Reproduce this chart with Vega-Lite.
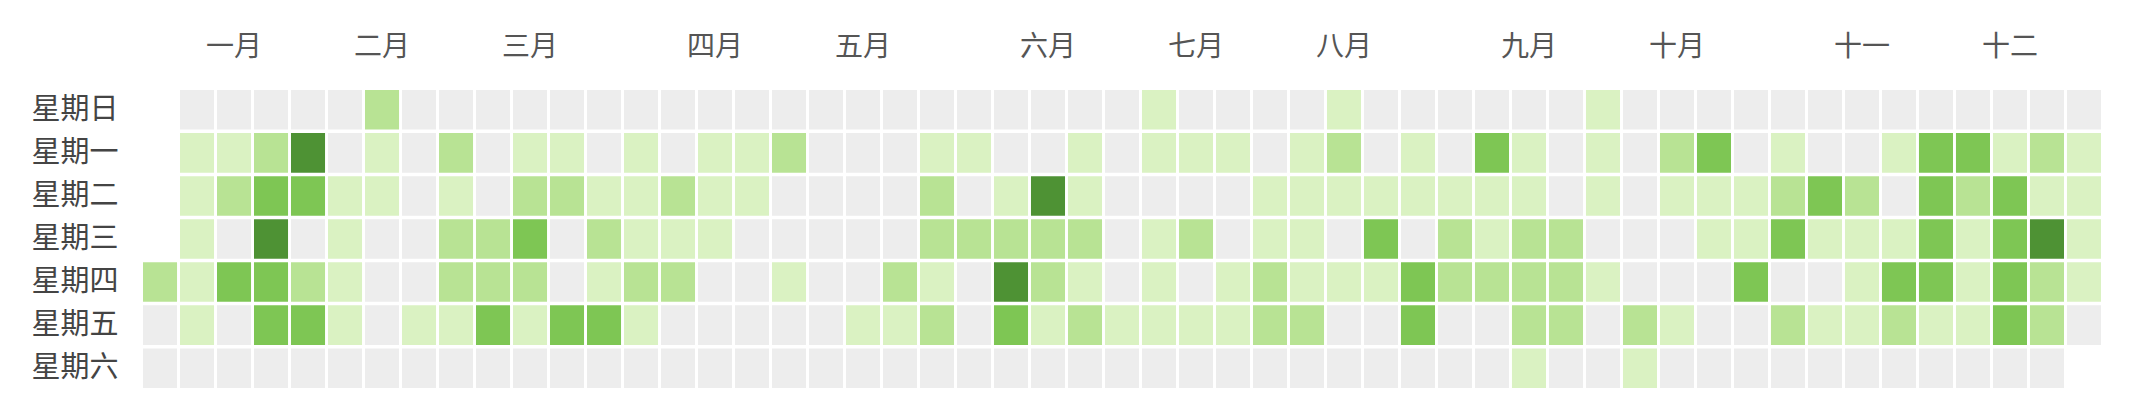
{
  "$schema": "https://vega.github.io/schema/vega-lite/v6.json",
  "autosize": {"type": "none"},
  "padding": {"left": 143, "top": 90, "right": 0, "bottom": 0},
  "width": 1958,
  "height": 298,
  "background": "white",
  "config": {"view": {"stroke": null}, "font": "Noto Sans CJK SC"},
  "data": {"values": [
{"w":0,"d":4,"v":2},{"w":0,"d":5,"v":0},{"w":0,"d":6,"v":0},
{"w":1,"d":0,"v":0},{"w":1,"d":1,"v":1},{"w":1,"d":2,"v":1},{"w":1,"d":3,"v":1},{"w":1,"d":4,"v":1},{"w":1,"d":5,"v":1},{"w":1,"d":6,"v":0},
{"w":2,"d":0,"v":0},{"w":2,"d":1,"v":1},{"w":2,"d":2,"v":2},{"w":2,"d":3,"v":0},{"w":2,"d":4,"v":3},{"w":2,"d":5,"v":0},{"w":2,"d":6,"v":0},
{"w":3,"d":0,"v":0},{"w":3,"d":1,"v":2},{"w":3,"d":2,"v":3},{"w":3,"d":3,"v":4},{"w":3,"d":4,"v":3},{"w":3,"d":5,"v":3},{"w":3,"d":6,"v":0},
{"w":4,"d":0,"v":0},{"w":4,"d":1,"v":4},{"w":4,"d":2,"v":3},{"w":4,"d":3,"v":0},{"w":4,"d":4,"v":2},{"w":4,"d":5,"v":3},{"w":4,"d":6,"v":0},
{"w":5,"d":0,"v":0},{"w":5,"d":1,"v":0},{"w":5,"d":2,"v":1},{"w":5,"d":3,"v":1},{"w":5,"d":4,"v":1},{"w":5,"d":5,"v":1},{"w":5,"d":6,"v":0},
{"w":6,"d":0,"v":2},{"w":6,"d":1,"v":1},{"w":6,"d":2,"v":1},{"w":6,"d":3,"v":0},{"w":6,"d":4,"v":0},{"w":6,"d":5,"v":0},{"w":6,"d":6,"v":0},
{"w":7,"d":0,"v":0},{"w":7,"d":1,"v":0},{"w":7,"d":2,"v":0},{"w":7,"d":3,"v":0},{"w":7,"d":4,"v":0},{"w":7,"d":5,"v":1},{"w":7,"d":6,"v":0},
{"w":8,"d":0,"v":0},{"w":8,"d":1,"v":2},{"w":8,"d":2,"v":1},{"w":8,"d":3,"v":2},{"w":8,"d":4,"v":2},{"w":8,"d":5,"v":1},{"w":8,"d":6,"v":0},
{"w":9,"d":0,"v":0},{"w":9,"d":1,"v":0},{"w":9,"d":2,"v":0},{"w":9,"d":3,"v":2},{"w":9,"d":4,"v":2},{"w":9,"d":5,"v":3},{"w":9,"d":6,"v":0},
{"w":10,"d":0,"v":0},{"w":10,"d":1,"v":1},{"w":10,"d":2,"v":2},{"w":10,"d":3,"v":3},{"w":10,"d":4,"v":2},{"w":10,"d":5,"v":1},{"w":10,"d":6,"v":0},
{"w":11,"d":0,"v":0},{"w":11,"d":1,"v":1},{"w":11,"d":2,"v":2},{"w":11,"d":3,"v":0},{"w":11,"d":4,"v":0},{"w":11,"d":5,"v":3},{"w":11,"d":6,"v":0},
{"w":12,"d":0,"v":0},{"w":12,"d":1,"v":0},{"w":12,"d":2,"v":1},{"w":12,"d":3,"v":2},{"w":12,"d":4,"v":1},{"w":12,"d":5,"v":3},{"w":12,"d":6,"v":0},
{"w":13,"d":0,"v":0},{"w":13,"d":1,"v":1},{"w":13,"d":2,"v":1},{"w":13,"d":3,"v":1},{"w":13,"d":4,"v":2},{"w":13,"d":5,"v":1},{"w":13,"d":6,"v":0},
{"w":14,"d":0,"v":0},{"w":14,"d":1,"v":0},{"w":14,"d":2,"v":2},{"w":14,"d":3,"v":1},{"w":14,"d":4,"v":2},{"w":14,"d":5,"v":0},{"w":14,"d":6,"v":0},
{"w":15,"d":0,"v":0},{"w":15,"d":1,"v":1},{"w":15,"d":2,"v":1},{"w":15,"d":3,"v":1},{"w":15,"d":4,"v":0},{"w":15,"d":5,"v":0},{"w":15,"d":6,"v":0},
{"w":16,"d":0,"v":0},{"w":16,"d":1,"v":1},{"w":16,"d":2,"v":1},{"w":16,"d":3,"v":0},{"w":16,"d":4,"v":0},{"w":16,"d":5,"v":0},{"w":16,"d":6,"v":0},
{"w":17,"d":0,"v":0},{"w":17,"d":1,"v":2},{"w":17,"d":2,"v":0},{"w":17,"d":3,"v":0},{"w":17,"d":4,"v":1},{"w":17,"d":5,"v":0},{"w":17,"d":6,"v":0},
{"w":18,"d":0,"v":0},{"w":18,"d":1,"v":0},{"w":18,"d":2,"v":0},{"w":18,"d":3,"v":0},{"w":18,"d":4,"v":0},{"w":18,"d":5,"v":0},{"w":18,"d":6,"v":0},
{"w":19,"d":0,"v":0},{"w":19,"d":1,"v":0},{"w":19,"d":2,"v":0},{"w":19,"d":3,"v":0},{"w":19,"d":4,"v":0},{"w":19,"d":5,"v":1},{"w":19,"d":6,"v":0},
{"w":20,"d":0,"v":0},{"w":20,"d":1,"v":0},{"w":20,"d":2,"v":0},{"w":20,"d":3,"v":0},{"w":20,"d":4,"v":2},{"w":20,"d":5,"v":1},{"w":20,"d":6,"v":0},
{"w":21,"d":0,"v":0},{"w":21,"d":1,"v":1},{"w":21,"d":2,"v":2},{"w":21,"d":3,"v":2},{"w":21,"d":4,"v":1},{"w":21,"d":5,"v":2},{"w":21,"d":6,"v":0},
{"w":22,"d":0,"v":0},{"w":22,"d":1,"v":1},{"w":22,"d":2,"v":0},{"w":22,"d":3,"v":2},{"w":22,"d":4,"v":0},{"w":22,"d":5,"v":0},{"w":22,"d":6,"v":0},
{"w":23,"d":0,"v":0},{"w":23,"d":1,"v":0},{"w":23,"d":2,"v":1},{"w":23,"d":3,"v":2},{"w":23,"d":4,"v":4},{"w":23,"d":5,"v":3},{"w":23,"d":6,"v":0},
{"w":24,"d":0,"v":0},{"w":24,"d":1,"v":0},{"w":24,"d":2,"v":4},{"w":24,"d":3,"v":2},{"w":24,"d":4,"v":2},{"w":24,"d":5,"v":1},{"w":24,"d":6,"v":0},
{"w":25,"d":0,"v":0},{"w":25,"d":1,"v":1},{"w":25,"d":2,"v":1},{"w":25,"d":3,"v":2},{"w":25,"d":4,"v":1},{"w":25,"d":5,"v":2},{"w":25,"d":6,"v":0},
{"w":26,"d":0,"v":0},{"w":26,"d":1,"v":0},{"w":26,"d":2,"v":0},{"w":26,"d":3,"v":0},{"w":26,"d":4,"v":0},{"w":26,"d":5,"v":1},{"w":26,"d":6,"v":0},
{"w":27,"d":0,"v":1},{"w":27,"d":1,"v":1},{"w":27,"d":2,"v":0},{"w":27,"d":3,"v":1},{"w":27,"d":4,"v":1},{"w":27,"d":5,"v":1},{"w":27,"d":6,"v":0},
{"w":28,"d":0,"v":0},{"w":28,"d":1,"v":1},{"w":28,"d":2,"v":0},{"w":28,"d":3,"v":2},{"w":28,"d":4,"v":0},{"w":28,"d":5,"v":1},{"w":28,"d":6,"v":0},
{"w":29,"d":0,"v":0},{"w":29,"d":1,"v":1},{"w":29,"d":2,"v":0},{"w":29,"d":3,"v":0},{"w":29,"d":4,"v":1},{"w":29,"d":5,"v":1},{"w":29,"d":6,"v":0},
{"w":30,"d":0,"v":0},{"w":30,"d":1,"v":0},{"w":30,"d":2,"v":1},{"w":30,"d":3,"v":1},{"w":30,"d":4,"v":2},{"w":30,"d":5,"v":2},{"w":30,"d":6,"v":0},
{"w":31,"d":0,"v":0},{"w":31,"d":1,"v":1},{"w":31,"d":2,"v":1},{"w":31,"d":3,"v":1},{"w":31,"d":4,"v":1},{"w":31,"d":5,"v":2},{"w":31,"d":6,"v":0},
{"w":32,"d":0,"v":1},{"w":32,"d":1,"v":2},{"w":32,"d":2,"v":1},{"w":32,"d":3,"v":0},{"w":32,"d":4,"v":1},{"w":32,"d":5,"v":0},{"w":32,"d":6,"v":0},
{"w":33,"d":0,"v":0},{"w":33,"d":1,"v":0},{"w":33,"d":2,"v":1},{"w":33,"d":3,"v":3},{"w":33,"d":4,"v":1},{"w":33,"d":5,"v":0},{"w":33,"d":6,"v":0},
{"w":34,"d":0,"v":0},{"w":34,"d":1,"v":1},{"w":34,"d":2,"v":1},{"w":34,"d":3,"v":0},{"w":34,"d":4,"v":3},{"w":34,"d":5,"v":3},{"w":34,"d":6,"v":0},
{"w":35,"d":0,"v":0},{"w":35,"d":1,"v":0},{"w":35,"d":2,"v":1},{"w":35,"d":3,"v":2},{"w":35,"d":4,"v":2},{"w":35,"d":5,"v":0},{"w":35,"d":6,"v":0},
{"w":36,"d":0,"v":0},{"w":36,"d":1,"v":3},{"w":36,"d":2,"v":1},{"w":36,"d":3,"v":1},{"w":36,"d":4,"v":2},{"w":36,"d":5,"v":0},{"w":36,"d":6,"v":0},
{"w":37,"d":0,"v":0},{"w":37,"d":1,"v":1},{"w":37,"d":2,"v":1},{"w":37,"d":3,"v":2},{"w":37,"d":4,"v":2},{"w":37,"d":5,"v":2},{"w":37,"d":6,"v":1},
{"w":38,"d":0,"v":0},{"w":38,"d":1,"v":0},{"w":38,"d":2,"v":0},{"w":38,"d":3,"v":2},{"w":38,"d":4,"v":2},{"w":38,"d":5,"v":2},{"w":38,"d":6,"v":0},
{"w":39,"d":0,"v":1},{"w":39,"d":1,"v":1},{"w":39,"d":2,"v":1},{"w":39,"d":3,"v":0},{"w":39,"d":4,"v":1},{"w":39,"d":5,"v":0},{"w":39,"d":6,"v":0},
{"w":40,"d":0,"v":0},{"w":40,"d":1,"v":0},{"w":40,"d":2,"v":0},{"w":40,"d":3,"v":0},{"w":40,"d":4,"v":0},{"w":40,"d":5,"v":2},{"w":40,"d":6,"v":1},
{"w":41,"d":0,"v":0},{"w":41,"d":1,"v":2},{"w":41,"d":2,"v":1},{"w":41,"d":3,"v":0},{"w":41,"d":4,"v":0},{"w":41,"d":5,"v":1},{"w":41,"d":6,"v":0},
{"w":42,"d":0,"v":0},{"w":42,"d":1,"v":3},{"w":42,"d":2,"v":1},{"w":42,"d":3,"v":1},{"w":42,"d":4,"v":0},{"w":42,"d":5,"v":0},{"w":42,"d":6,"v":0},
{"w":43,"d":0,"v":0},{"w":43,"d":1,"v":0},{"w":43,"d":2,"v":1},{"w":43,"d":3,"v":1},{"w":43,"d":4,"v":3},{"w":43,"d":5,"v":0},{"w":43,"d":6,"v":0},
{"w":44,"d":0,"v":0},{"w":44,"d":1,"v":1},{"w":44,"d":2,"v":2},{"w":44,"d":3,"v":3},{"w":44,"d":4,"v":0},{"w":44,"d":5,"v":2},{"w":44,"d":6,"v":0},
{"w":45,"d":0,"v":0},{"w":45,"d":1,"v":0},{"w":45,"d":2,"v":3},{"w":45,"d":3,"v":1},{"w":45,"d":4,"v":0},{"w":45,"d":5,"v":1},{"w":45,"d":6,"v":0},
{"w":46,"d":0,"v":0},{"w":46,"d":1,"v":0},{"w":46,"d":2,"v":2},{"w":46,"d":3,"v":1},{"w":46,"d":4,"v":1},{"w":46,"d":5,"v":1},{"w":46,"d":6,"v":0},
{"w":47,"d":0,"v":0},{"w":47,"d":1,"v":1},{"w":47,"d":2,"v":0},{"w":47,"d":3,"v":1},{"w":47,"d":4,"v":3},{"w":47,"d":5,"v":2},{"w":47,"d":6,"v":0},
{"w":48,"d":0,"v":0},{"w":48,"d":1,"v":3},{"w":48,"d":2,"v":3},{"w":48,"d":3,"v":3},{"w":48,"d":4,"v":3},{"w":48,"d":5,"v":1},{"w":48,"d":6,"v":0},
{"w":49,"d":0,"v":0},{"w":49,"d":1,"v":3},{"w":49,"d":2,"v":2},{"w":49,"d":3,"v":1},{"w":49,"d":4,"v":1},{"w":49,"d":5,"v":1},{"w":49,"d":6,"v":0},
{"w":50,"d":0,"v":0},{"w":50,"d":1,"v":1},{"w":50,"d":2,"v":3},{"w":50,"d":3,"v":3},{"w":50,"d":4,"v":3},{"w":50,"d":5,"v":3},{"w":50,"d":6,"v":0},
{"w":51,"d":0,"v":0},{"w":51,"d":1,"v":2},{"w":51,"d":2,"v":1},{"w":51,"d":3,"v":4},{"w":51,"d":4,"v":2},{"w":51,"d":5,"v":2},{"w":51,"d":6,"v":0},
{"w":52,"d":0,"v":0},{"w":52,"d":1,"v":1},{"w":52,"d":2,"v":1},{"w":52,"d":3,"v":1},{"w":52,"d":4,"v":1},{"w":52,"d":5,"v":0}
  ]},
  "mark": {"type": "rect"},
  "encoding": {
    "x": {
      "field": "w", "type": "ordinal",
      "scale": {"domain": [0,1,2,3,4,5,6,7,8,9,10,11,12,13,14,15,16,17,18,19,20,21,22,23,24,25,26,27,28,29,30,31,32,33,34,35,36,37,38,39,40,41,42,43,44,45,46,47,48,49,50,51,52], "paddingInner": 0.08, "paddingOuter": 0},
      "axis": {
        "orient": "top", "title": null, "domain": false, "ticks": false, "tickSize": 0, "grid": false,
        "values": [2,6,10,15,19,24,28,32,37,41,46,50],
        "labelAngle": 0, "labelFontSize": 28, "labelColor": "#555555", "labelPadding": 29,
        "labelFont": "Noto Sans CJK SC", "labelFontWeight": "normal",
        "labelExpr": "datum.value == 2 ? '一月' : datum.value == 6 ? '二月' : datum.value == 10 ? '三月' : datum.value == 15 ? '四月' : datum.value == 19 ? '五月' : datum.value == 24 ? '六月' : datum.value == 28 ? '七月' : datum.value == 32 ? '八月' : datum.value == 37 ? '九月' : datum.value == 41 ? '十月' : datum.value == 46 ? '十一' : datum.value == 50 ? '十二' : ''"
      }
    },
    "y": {
      "field": "d", "type": "ordinal",
      "scale": {"domain": [0,1,2,3,4,5,6], "paddingInner": 0.08, "paddingOuter": 0},
      "axis": {
        "title": null, "domain": false, "ticks": false, "tickSize": 0, "grid": false,
        "labelFontSize": 29, "labelColor": "#444444", "labelPadding": 25,
        "labelFont": "Noto Sans CJK SC", "labelFontWeight": "normal", "labelAngle": 0,
        "labelExpr": "['星期日','星期一','星期二','星期三','星期四','星期五','星期六'][datum.value]"
      }
    },
    "color": {
      "field": "v", "type": "ordinal",
      "scale": {"domain": [0,1,2,3,4], "range": ["#ededed", "#daf2c2", "#b8e394", "#7ec654", "#4e9234"]},
      "legend": null
    }
  }
}
